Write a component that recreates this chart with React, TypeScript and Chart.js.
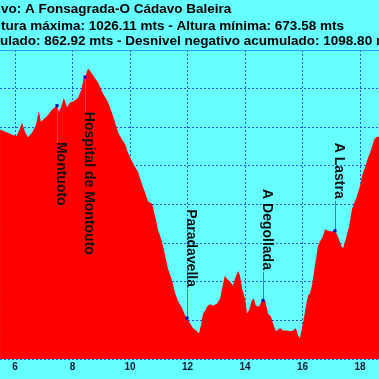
import { useEffect, useRef } from "react";
import { Chart, registerables } from "chart.js";

Chart.register(...registerables);

const distKm = [
  5.48, 5.93, 6.06, 6.17, 6.24, 6.35, 6.45, 6.59, 6.73, 6.83,
  6.9, 7.04, 7.15, 7.29, 7.36, 7.46, 7.53, 7.6, 7.7, 7.81,
  7.91, 8.05, 8.19, 8.3, 8.4, 8.47, 8.54, 8.61, 8.75, 8.89,
  9.03, 9.13, 9.23, 9.37, 9.48, 9.58, 9.72, 9.83, 9.93, 10.07,
  10.17, 10.28, 10.42, 10.52, 10.63, 10.77, 10.87, 10.97, 11.11, 11.22,
  11.32, 11.46, 11.57, 11.67, 11.81, 11.91, 11.98, 12.09, 12.19, 12.33,
  12.4, 12.47, 12.54, 12.61, 12.68, 12.78, 12.89, 13.03, 13.13, 13.2,
  13.3, 13.37, 13.48, 13.58, 13.65, 13.76, 13.83, 13.9, 14.0, 14.07,
  14.14, 14.24, 14.31, 14.38, 14.49, 14.59, 14.63, 14.7, 14.8, 14.9,
  15.01, 15.08, 15.22, 15.32, 15.46, 15.57, 15.67, 15.77, 15.84, 15.91,
  15.98, 16.05, 16.12, 16.19, 16.26, 16.33, 16.4, 16.47, 16.54, 16.61,
  16.71, 16.78, 16.89, 16.99, 17.13, 17.23, 17.34, 17.41, 17.51, 17.62,
  17.72, 17.79, 17.86, 17.93, 18.0, 18.07, 18.14, 18.21, 18.28, 18.35,
  18.42, 18.49, 18.56, 18.66,
];

const elevM = [
  947, 940, 939, 948, 956, 944, 937, 943, 953, 971,
  957, 962, 966, 973, 975, 978, 970, 976, 988, 976,
  982, 984, 988, 998, 1014, 1018, 1026, 1023, 1015, 1008,
  996, 989, 983, 969, 956, 944, 934, 928, 917, 906,
  899, 892, 876, 866, 854, 851, 835, 818, 802, 784,
  767, 752, 735, 725, 716, 707, 703, 696, 690, 686,
  683, 694, 709, 712, 718, 721, 719, 722, 728, 741,
  758, 754, 750, 745, 754, 764, 757, 741, 728, 709,
  713, 726, 728, 719, 718, 726, 726, 726, 709, 705,
  692, 686, 690, 687, 687, 686, 687, 690, 681, 677,
  690, 703, 719, 732, 735, 745, 763, 780, 797, 802,
  809, 818, 816, 815, 816, 809, 797, 793, 806, 822,
  844, 851, 857, 866, 874, 887, 895, 902, 911, 917,
  925, 934, 937, 938,
];

const xTicks = [6, 8, 10, 12, 14, 16, 18];
const yGridValues = [650, 700, 750, 800, 850, 900, 950, 1000, 1050];

const placeNames = ["Montuoto", "Hospital de Montouto", "Paradavella", "A Degollada", "A Lastra"];
const placeKm = [7.46, 8.43, 11.98, 14.63, 17.13];
const placeElev = [978, 1015, 703, 726, 816];
const placeLabelStartElev = [931, 970, 844, 870, 930];

const titleLines = [
  "Archivo: A Fonsagrada-O Cádavo Baleira",
  "Altura máxima: 1026.11 mts - Altura mínima: 673.58 mts",
  "Desnivel positivo acumulado: 862.92 mts - Desnivel negativo acumulado: 1098.80 mts",
];
const titleHiddenPrefix = ["Archi", "Al", "Desnivel positivo acum"];

const BG = "#66ffff";
const FONT = '"Liberation Sans", Arial, sans-serif';

const overlayPlugin = {
  id: "overlay",
  beforeDraw(chart: any) {
    const ctx = chart.ctx;
    ctx.save();
    ctx.fillStyle = BG;
    ctx.fillRect(0, 0, chart.width, chart.height);
    ctx.restore();
  },
  afterDraw(chart: any) {
    const { ctx, chartArea } = chart;
    const xs = chart.scales.x;
    const ys = chart.scales.y;
    ctx.save();
    ctx.strokeStyle = "#3399ff";
    ctx.lineWidth = 1;
    ctx.beginPath();
    ctx.moveTo(chartArea.left, Math.round(chartArea.top) + 0.5);
    ctx.lineTo(chartArea.right, Math.round(chartArea.top) + 0.5);
    ctx.stroke();

    ctx.font = "bold 13.5px " + FONT;
    ctx.fillStyle = "#000000";
    ctx.textAlign = "left";
    ctx.textBaseline = "alphabetic";
    const visibleStart = [1, 1, 0];
    const baselines = [13, 30, 45];
    titleLines.forEach((t, i) => {
      const off = ctx.measureText(titleHiddenPrefix[i]).width;
      ctx.fillText(t, visibleStart[i] - off, baselines[i]);
    });

    ctx.font = "bold 14px " + FONT;
    placeNames.forEach((name, i) => {
      const px = Math.round(xs.getPixelForValue(placeKm[i])) + 0.5;
      const py = ys.getPixelForValue(placeElev[i]);
      const ly = ys.getPixelForValue(placeLabelStartElev[i]);
      const w = ctx.measureText(name).width;
      ctx.strokeStyle = "#3377ff";
      ctx.lineWidth = 1;
      ctx.beginPath();
      if (py < ly) {
        ctx.moveTo(px, py);
        ctx.lineTo(px, ly);
      } else {
        ctx.moveTo(px, ly + w + 2);
        ctx.lineTo(px, py);
      }
      ctx.stroke();
      ctx.fillStyle = "#0000cc";
      ctx.fillRect(px - 2, py - 1.5, 3, 3);
      ctx.save();
      ctx.translate(px - 0.5, ly);
      ctx.rotate(Math.PI / 2);
      ctx.fillStyle = "#111111";
      ctx.textAlign = "left";
      ctx.textBaseline = "alphabetic";
      ctx.fillText(name, 0, 0);
      ctx.restore();
    });
    ctx.restore();
  },
};

export default function App() {
  const canvasRef = useRef<HTMLCanvasElement | null>(null);

  useEffect(() => {
    document.body.style.margin = "0";
    document.body.style.background = BG;
    const canvas = canvasRef.current;
    if (!canvas) return;
    const points = distKm.map((d, i) => ({ x: d, y: elevM[i] }));
    const chart = new Chart(canvas, {
      type: "line",
      data: {
        datasets: [
          {
            data: points,
            backgroundColor: "#ff0000",
            borderWidth: 0,
            borderColor: "rgba(0,0,0,0)",
            pointRadius: 0,
            fill: "start",
            tension: 0,
          },
        ],
      },
      options: {
        animation: false,
        responsive: false,
        devicePixelRatio: 1,
        layout: { padding: { top: 50, left: 0, right: 0, bottom: 4 } },
        plugins: {
          legend: { display: false },
          tooltip: { enabled: false },
          title: { display: false },
        },
        scales: {
          x: {
            type: "linear",
            min: 5.478,
            max: 18.66,
            z: 1,
            afterBuildTicks: (scale: any) => {
              scale.ticks = xTicks.map((v) => ({ value: v }));
            },
            ticks: {
              autoSkip: false,
              maxRotation: 0,
              padding: 2,
              color: "#0a1a30",
              font: { family: FONT, size: 10, weight: "bold" },
              callback: (v: any) => String(v),
            },
            grid: {
              drawTicks: false,
              color: "#2255ee",
              lineWidth: 1,
            },
            border: { display: false, dash: [2, 2] },
          },
          y: {
            type: "linear",
            min: 650,
            max: 1050,
            z: 1,
            afterBuildTicks: (scale: any) => {
              scale.ticks = yGridValues.map((v) => ({ value: v }));
            },
            afterFit: (scale: any) => {
              scale.width = 0;
            },
            ticks: { display: false },
            grid: {
              drawTicks: false,
              color: "#2255ee",
              lineWidth: 1,
            },
            border: { display: false, dash: [2, 2] },
          },
        },
      },
      plugins: [overlayPlugin],
    } as any);
    return () => chart.destroy();
  }, []);

  return (
    <div style={{ width: 379, height: 379, background: BG }}>
      <canvas ref={canvasRef} width={379} height={379} style={{ display: "block" }} />
    </div>
  );
}
